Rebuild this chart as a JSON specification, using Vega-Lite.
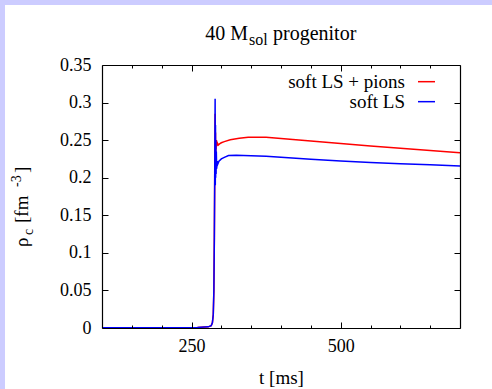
{
  "$schema": "https://vega.github.io/schema/vega-lite/v6.json",
  "width": 358,
  "height": 263,
  "autosize": {"type": "none"},
  "padding": {"left": 102, "top": 65, "right": 32, "bottom": 61},
  "background": "#ccccff",
  "datasets": {
    "rho": [
      {"t": 100, "rho": 0.0002, "series": "soft LS + pions"},
      {"t": 200, "rho": 0.0004, "series": "soft LS + pions"},
      {"t": 260, "rho": 0.0008, "series": "soft LS + pions"},
      {"t": 278, "rho": 0.0015, "series": "soft LS + pions"},
      {"t": 283, "rho": 0.003, "series": "soft LS + pions"},
      {"t": 285, "rho": 0.007, "series": "soft LS + pions"},
      {"t": 286.5, "rho": 0.018, "series": "soft LS + pions"},
      {"t": 287.5, "rho": 0.05, "series": "soft LS + pions"},
      {"t": 288.3, "rho": 0.12, "series": "soft LS + pions"},
      {"t": 288.9, "rho": 0.2, "series": "soft LS + pions"},
      {"t": 289.3, "rho": 0.25, "series": "soft LS + pions"},
      {"t": 289.6, "rho": 0.285, "series": "soft LS + pions"},
      {"t": 289.9, "rho": 0.21, "series": "soft LS + pions"},
      {"t": 290.2, "rho": 0.26, "series": "soft LS + pions"},
      {"t": 290.5, "rho": 0.225, "series": "soft LS + pions"},
      {"t": 290.8, "rho": 0.25, "series": "soft LS + pions"},
      {"t": 291.2, "rho": 0.238, "series": "soft LS + pions"},
      {"t": 291.8, "rho": 0.25, "series": "soft LS + pions"},
      {"t": 292.5, "rho": 0.242, "series": "soft LS + pions"},
      {"t": 293.5, "rho": 0.246, "series": "soft LS + pions"},
      {"t": 295, "rho": 0.2435, "series": "soft LS + pions"},
      {"t": 297, "rho": 0.245, "series": "soft LS + pions"},
      {"t": 300, "rho": 0.2465, "series": "soft LS + pions"},
      {"t": 305, "rho": 0.248, "series": "soft LS + pions"},
      {"t": 315, "rho": 0.2505, "series": "soft LS + pions"},
      {"t": 330, "rho": 0.2525, "series": "soft LS + pions"},
      {"t": 345, "rho": 0.2537, "series": "soft LS + pions"},
      {"t": 360, "rho": 0.254, "series": "soft LS + pions"},
      {"t": 375, "rho": 0.2537, "series": "soft LS + pions"},
      {"t": 400, "rho": 0.2523, "series": "soft LS + pions"},
      {"t": 450, "rho": 0.2488, "series": "soft LS + pions"},
      {"t": 500, "rho": 0.2455, "series": "soft LS + pions"},
      {"t": 550, "rho": 0.2423, "series": "soft LS + pions"},
      {"t": 600, "rho": 0.2392, "series": "soft LS + pions"},
      {"t": 650, "rho": 0.2362, "series": "soft LS + pions"},
      {"t": 700, "rho": 0.2333, "series": "soft LS + pions"},
      {"t": 100, "rho": 0.0002, "series": "soft LS"},
      {"t": 200, "rho": 0.0004, "series": "soft LS"},
      {"t": 260, "rho": 0.0008, "series": "soft LS"},
      {"t": 278, "rho": 0.0015, "series": "soft LS"},
      {"t": 283, "rho": 0.003, "series": "soft LS"},
      {"t": 285, "rho": 0.007, "series": "soft LS"},
      {"t": 286.5, "rho": 0.018, "series": "soft LS"},
      {"t": 287.5, "rho": 0.05, "series": "soft LS"},
      {"t": 288.3, "rho": 0.12, "series": "soft LS"},
      {"t": 288.9, "rho": 0.2, "series": "soft LS"},
      {"t": 289.3, "rho": 0.26, "series": "soft LS"},
      {"t": 289.6, "rho": 0.305, "series": "soft LS"},
      {"t": 289.9, "rho": 0.19, "series": "soft LS"},
      {"t": 290.2, "rho": 0.27, "series": "soft LS"},
      {"t": 290.5, "rho": 0.2, "series": "soft LS"},
      {"t": 290.8, "rho": 0.25, "series": "soft LS"},
      {"t": 291.2, "rho": 0.205, "series": "soft LS"},
      {"t": 291.6, "rho": 0.235, "series": "soft LS"},
      {"t": 292.2, "rho": 0.212, "series": "soft LS"},
      {"t": 293, "rho": 0.222, "series": "soft LS"},
      {"t": 294, "rho": 0.218, "series": "soft LS"},
      {"t": 296, "rho": 0.222, "series": "soft LS"},
      {"t": 300, "rho": 0.225, "series": "soft LS"},
      {"t": 305, "rho": 0.227, "series": "soft LS"},
      {"t": 312, "rho": 0.2295, "series": "soft LS"},
      {"t": 325, "rho": 0.2298, "series": "soft LS"},
      {"t": 350, "rho": 0.2293, "series": "soft LS"},
      {"t": 375, "rho": 0.2285, "series": "soft LS"},
      {"t": 400, "rho": 0.2272, "series": "soft LS"},
      {"t": 450, "rho": 0.2245, "series": "soft LS"},
      {"t": 500, "rho": 0.2222, "series": "soft LS"},
      {"t": 550, "rho": 0.2203, "series": "soft LS"},
      {"t": 600, "rho": 0.2187, "series": "soft LS"},
      {"t": 650, "rho": 0.2171, "series": "soft LS"},
      {"t": 700, "rho": 0.2156, "series": "soft LS"}
    ]
  },
  "layer": [
    {
      "data": {"values": [{}]},
      "mark": {"type": "rect", "fill": "white", "clip": false},
      "encoding": {"x": {"value": -97}, "x2": {"value": 390}, "y": {"value": -60}, "y2": {"value": 324}}
    },
    {
      "data": {"name": "rho"},
      "transform": [{"filter": "datum.series === 'soft LS + pions'"}],
      "mark": {"type": "line", "strokeWidth": 1.5, "clip": true},
      "encoding": {
        "x": {"field": "t", "type": "quantitative",
          "scale": {"domain": [100, 700], "nice": false, "zero": false},
          "axis": {"orient": "bottom", "zindex": 1, "grid": false, "values": [150, 200, 250, 300, 350, 400, 450, 500, 550, 600, 650],
            "domainColor": "black", "domainWidth": 1.2, "tickColor": "black", "tickWidth": 1,
            "tickSize": {"condition": {"test": "datum.value % 250 === 0", "value": -6}, "value": -3},
            "labelExpr": "datum.value % 250 === 0 ? datum.label : ''",
            "labelFont": "Liberation Serif", "labelFontSize": 18, "labelColor": "black",
            "labelPadding": 15, "labelFlush": false,
            "title": "t [ms]", "titleFont": "Liberation Serif", "titleFontSize": 19, "titleFontWeight": "normal", "titleColor": "black", "titlePadding": 13}},
        "y": {"field": "rho", "type": "quantitative",
          "scale": {"domain": [0, 0.35], "nice": false},
          "axis": {"orient": "left", "zindex": 1, "grid": false, "values": [0, 0.05, 0.1, 0.15, 0.2, 0.25, 0.3, 0.35], "format": "~g",
            "domainColor": "black", "domainWidth": 1.2, "tickColor": "black", "tickWidth": 1,
            "tickSize": -6, "labelFont": "Liberation Serif", "labelFontSize": 18, "labelColor": "black",
            "labelPadding": 17, "labelFlush": false, "title": null}},
        "color": {"field": "series", "type": "nominal",
          "scale": {"domain": ["soft LS + pions", "soft LS"], "range": ["#ff0000", "#0000ff"]}, "legend": null}
      }
    },
    {
      "data": {"name": "rho"},
      "transform": [{"filter": "datum.series === 'soft LS'"}],
      "mark": {"type": "line", "strokeWidth": 1.5, "clip": true},
      "encoding": {
        "x": {"field": "t", "type": "quantitative",
          "axis": {"orient": "top", "zindex": 1, "grid": false, "values": [150, 200, 250, 300, 350, 400, 450, 500, 550, 600, 650],
            "domainColor": "black", "domainWidth": 1.2, "tickColor": "black", "tickWidth": 1,
            "tickSize": {"condition": {"test": "datum.value % 250 === 0", "value": -6}, "value": -3},
            "labels": false, "title": null}},
        "y": {"field": "rho", "type": "quantitative",
          "axis": {"orient": "right", "zindex": 1, "grid": false, "values": [0, 0.05, 0.1, 0.15, 0.2, 0.25, 0.3, 0.35],
            "domainColor": "black", "domainWidth": 1.2, "tickColor": "black", "tickWidth": 1,
            "tickSize": -6, "labels": false, "title": null}},
        "color": {"field": "series", "type": "nominal", "legend": null}
      }
    },
    {
      "data": {"values": [{}]},
      "mark": {"type": "text", "text": "soft LS + pions", "align": "right", "baseline": "alphabetic", "font": "Liberation Serif", "fontSize": 19, "color": "black"},
      "encoding": {"x": {"datum": 607.8, "type": "quantitative", "axis": null}, "y": {"datum": 0.3194, "type": "quantitative", "axis": null}}
    },
    {
      "data": {"values": [{}]},
      "mark": {"type": "text", "text": "soft LS", "align": "right", "baseline": "alphabetic", "font": "Liberation Serif", "fontSize": 19, "color": "black"},
      "encoding": {"x": {"datum": 607.8, "type": "quantitative", "axis": null}, "y": {"datum": 0.2928, "type": "quantitative", "axis": null}}
    },
    {
      "data": {"values": [{}]},
      "mark": {"type": "rule", "color": "#ff0000", "strokeWidth": 1.5},
      "encoding": {"x": {"datum": 629.6, "type": "quantitative", "axis": null}, "x2": {"datum": 658.1}, "y": {"datum": 0.3278, "type": "quantitative", "axis": null}}
    },
    {
      "data": {"values": [{}]},
      "mark": {"type": "rule", "color": "#0000ff", "strokeWidth": 1.5},
      "encoding": {"x": {"datum": 629.6, "type": "quantitative", "axis": null}, "x2": {"datum": 658.1}, "y": {"datum": 0.3012, "type": "quantitative", "axis": null}}
    },
    {
      "data": {"values": [{}]},
      "mark": {"type": "text", "text": "40 M", "align": "right", "baseline": "alphabetic", "font": "Liberation Serif", "fontSize": 20, "color": "black"},
      "encoding": {"x": {"value": 146}, "y": {"value": -25}}
    },
    {
      "data": {"values": [{}]},
      "mark": {"type": "text", "text": "sol", "align": "left", "baseline": "alphabetic", "font": "Liberation Serif", "fontSize": 16, "color": "black"},
      "encoding": {"x": {"value": 147}, "y": {"value": -20}}
    },
    {
      "data": {"values": [{}]},
      "mark": {"type": "text", "text": "progenitor", "align": "left", "baseline": "alphabetic", "font": "Liberation Serif", "fontSize": 20, "color": "black"},
      "encoding": {"x": {"value": 171}, "y": {"value": -25}}
    },
    {
      "data": {"values": [{}]},
      "mark": {"type": "text", "text": "ρ", "angle": 270, "align": "left", "baseline": "alphabetic", "font": "Liberation Serif", "fontSize": 19, "color": "black"},
      "encoding": {"x": {"value": -74}, "y": {"value": 182}}
    },
    {
      "data": {"values": [{}]},
      "mark": {"type": "text", "text": "c", "angle": 270, "align": "left", "baseline": "alphabetic", "font": "Liberation Serif", "fontSize": 14, "color": "black"},
      "encoding": {"x": {"value": -69}, "y": {"value": 170}}
    },
    {
      "data": {"values": [{}]},
      "mark": {"type": "text", "text": "[fm", "angle": 270, "align": "left", "baseline": "alphabetic", "font": "Liberation Serif", "fontSize": 19, "color": "black"},
      "encoding": {"x": {"value": -74}, "y": {"value": 158}}
    },
    {
      "data": {"values": [{}]},
      "mark": {"type": "text", "text": "-3", "angle": 270, "align": "left", "baseline": "alphabetic", "font": "Liberation Serif", "fontSize": 14, "color": "black"},
      "encoding": {"x": {"value": -81}, "y": {"value": 122}}
    },
    {
      "data": {"values": [{}]},
      "mark": {"type": "text", "text": "]", "angle": 270, "align": "left", "baseline": "alphabetic", "font": "Liberation Serif", "fontSize": 19, "color": "black"},
      "encoding": {"x": {"value": -74}, "y": {"value": 108}}
    }
  ],
  "resolve": {"axis": {"x": "independent", "y": "independent"}}
}
